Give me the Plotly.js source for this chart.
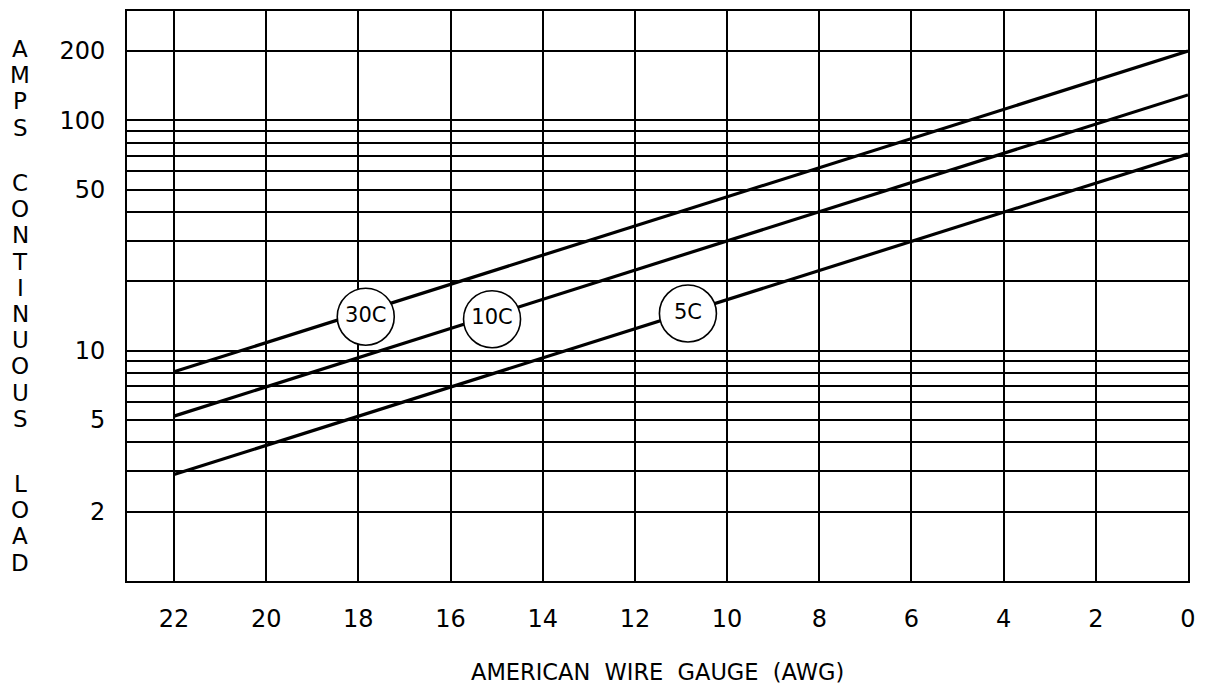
<!DOCTYPE html>
<html>
<head>
<meta charset="utf-8">
<script src="https://cdn.plot.ly/plotly-3.0.1.min.js"></script>
<style>html,body{margin:0;padding:0;background:#fff;}#chart{width:1209px;height:698px;}</style>
</head>
<body>
<div id="chart"></div>
<script>
// ---- data ----
const awg = [22, 0];
const amps30C = [8.1, 200];
const amps10C = [5.2, 129];
const amps5C = [2.9, 71.5];
const seriesNames = ['30C', '10C', '5C'];
const labelAwg = [17.84, 15.1, 10.85];
const labelAmps = [14.05, 13.7, 14.5];
const xTicks = [22, 20, 18, 16, 14, 12, 10, 8, 6, 4, 2, 0];
const yTicks = [2, 3, 4, 5, 6, 7, 8, 9, 10, 20, 30, 40, 50, 60, 70, 80, 90, 100, 200];
const yTickText = ['2', '', '', '5', '', '', '', '', '10', '', '', '', '50', '', '', '', '', '100', '200'];
const yTitleWords = ['AMPS', 'CONTINUOUS', 'LOAD'];
const xTitle = 'AMERICAN WIRE GAUGE (AWG)';

const FONT = 'DejaVu Sans, Liberation Sans, sans-serif';
const seriesValues = [amps30C, amps10C, amps5C];

const traces = seriesValues.map((vals, i) => ({
  x: awg, y: vals, name: seriesNames[i], type: 'scatter', mode: 'lines',
  line: {color: '#000', width: 3.2}, hoverinfo: 'skip', showlegend: false
}));
traces.push({
  x: labelAwg, y: labelAmps, text: seriesNames, type: 'scatter', mode: 'markers+text',
  textposition: 'middle center',
  textfont: {family: FONT, size: 21, color: '#000'},
  marker: {size: 57, color: '#fff', line: {color: '#000', width: 1.6}},
  hoverinfo: 'skip', showlegend: false, cliponaxis: false
});

// vertical stacked y-axis title, one letter per row
const M_T = 11, PLOT_H = 570;
const wordStartPx = [49, 183, 484];
const letterStep = 26.2;
const annotations = [];
yTitleWords.forEach((w, wi) => {
  w.split('').forEach((ch, ci) => {
    const py = wordStartPx[wi] + ci * letterStep;
    annotations.push({
      text: ch, xref: 'paper', yref: 'paper',
      x: 0, y: 1 - (py - M_T) / PLOT_H, xanchor: 'center', yanchor: 'middle', xshift: -107,
      showarrow: false, font: {family: FONT, size: 23, color: '#000'}
    });
  });
});
annotations.push({
  text: xTitle.replace(/ /g, '&nbsp;&nbsp;'), xref: 'paper', yref: 'paper', x: 0.5, y: -0.1596,
  xanchor: 'center', yanchor: 'middle', showarrow: false,
  font: {family: FONT, size: 22.5, color: '#000'}
});

const layout = {
  width: 1209, height: 698,
  margin: {l: 127, r: 21, t: 11, b: 117},
  paper_bgcolor: '#fff', plot_bgcolor: '#fff',
  showlegend: false,
  xaxis: {
    range: [23.02, 0], tickvals: xTicks, ticktext: xTicks.map(String),
    showgrid: true, gridcolor: '#000', gridwidth: 2, zeroline: false,
    showline: true, mirror: true, linecolor: '#000', linewidth: 2,
    ticks: 'outside', ticklen: 15, tickcolor: 'rgba(0,0,0,0)',
    tickfont: {family: FONT, size: 24, color: '#000'}, fixedrange: true
  },
  yaxis: {
    type: 'log', range: [0, 2.475], tickvals: yTicks, ticktext: yTickText,
    showgrid: true, gridcolor: '#000', gridwidth: 2, zeroline: false,
    showline: true, mirror: true, linecolor: '#000', linewidth: 2,
    ticks: 'outside', ticklen: 15, tickcolor: 'rgba(0,0,0,0)',
    tickfont: {family: FONT, size: 24, color: '#000'}, fixedrange: true
  },
  annotations: annotations
};

Plotly.newPlot('chart', traces, layout, {displayModeBar: false, staticPlot: true});
</script>
</body>
</html>
